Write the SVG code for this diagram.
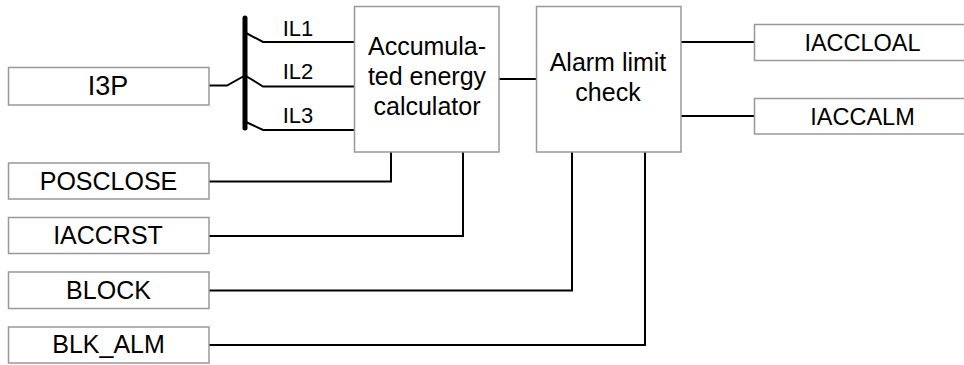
<svg xmlns="http://www.w3.org/2000/svg" width="964" height="365" viewBox="0 0 964 365">
<style>
.box{fill:#fff;stroke:#999;stroke-width:1.5}
.ln{fill:none;stroke:#000;stroke-width:2}
.t{font-family:"Liberation Sans",Arial,sans-serif;fill:#000;text-anchor:middle}
.l{font-size:25px}
.r{font-size:23.5px}
.b{font-size:25px}
.il{font-size:22px}
</style>
<rect width="964" height="365" fill="#fff"/>
<g id="connectors">
<polyline class="ln" points="209,85.5 227,85.5 244,76"/>
<polyline class="ln" points="246,33 263,42 354,42"/>
<polyline class="ln" points="246,76 263,86.5 354,86.5"/>
<polyline class="ln" points="246,122 263,130 354,130"/>
<line class="ln" x1="499" y1="79" x2="536" y2="79"/>
<line class="ln" x1="681" y1="42" x2="754" y2="42"/>
<line class="ln" x1="681" y1="116" x2="754" y2="116"/>
<polyline class="ln" points="209,181.5 391,181.5 391,152"/>
<polyline class="ln" points="209,236 463,236 463,152"/>
<polyline class="ln" points="209,290.5 572,290.5 572,152"/>
<polyline class="ln" points="209,345 645,345 645,152"/>
<line x1="245" y1="18" x2="245" y2="128" stroke="#000" stroke-width="5" stroke-linecap="round"/>
<text class="t il" x="298" y="35.5">IL1</text>
<text class="t il" x="298" y="79">IL2</text>
<text class="t il" x="298" y="122.5">IL3</text>
</g>
<g id="I3P"><rect class="box" x="8.5" y="67.5" width="200.5" height="37.5"/><text class="t" x="108" y="95" style="font-size:27px">I3P</text></g>
<g id="acc"><rect class="box" x="354.5" y="6.5" width="144.5" height="145.5"/>
<text class="t b" x="427" y="55">Accumula-</text><text class="t b" x="427" y="85">ted energy</text><text class="t b" x="427" y="115">calculator</text></g>
<g id="alarm"><rect class="box" x="536.5" y="6.5" width="144.5" height="145.5"/>
<text class="t b" x="608" y="71">Alarm limit</text><text class="t b" x="608" y="101">check</text></g>
<g id="IACCLOAL"><rect class="box" x="754.5" y="24.5" width="220" height="36"/><text class="t r" x="862.5" y="50.5">IACCLOAL</text></g>
<g id="IACCALM"><rect class="box" x="754.5" y="98.5" width="220" height="35.5"/><text class="t r" x="862.5" y="124.5">IACCALM</text></g>
<g id="POSCLOSE"><rect class="box" x="8.5" y="163" width="200.5" height="36"/><text class="t l" x="108.5" y="189.5">POSCLOSE</text></g>
<g id="IACCRST"><rect class="box" x="8.5" y="217.5" width="200.5" height="36"/><text class="t l" x="108" y="244">IACCRST</text></g>
<g id="BLOCK"><rect class="box" x="8.5" y="272" width="200.5" height="36.5"/><text class="t l" x="108.5" y="299">BLOCK</text></g>
<g id="BLK_ALM"><rect class="box" x="8.5" y="327" width="200.5" height="36"/><text class="t l" x="108.5" y="353">BLK_ALM</text></g>
</svg>
